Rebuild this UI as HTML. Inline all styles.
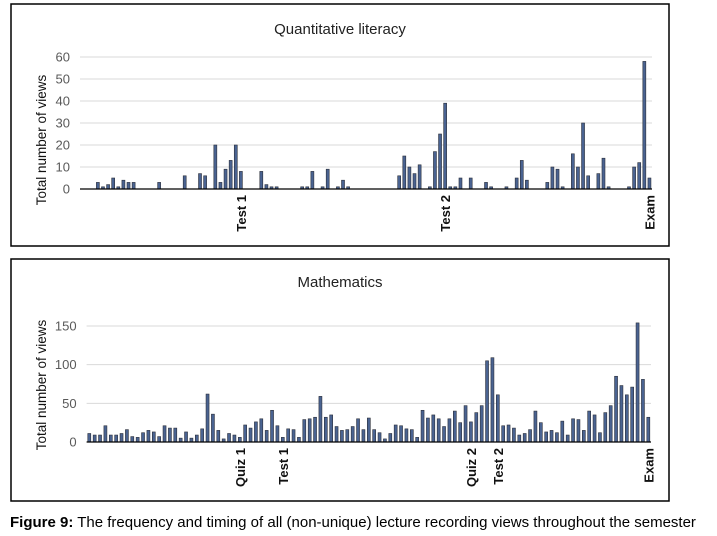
<!DOCTYPE html>
<html><head><meta charset="utf-8"><style>
body{margin:0;background:#fff;width:717px;height:536px;overflow:hidden;font-family:"Liberation Sans",sans-serif;}
svg{position:absolute;left:0;top:0}
.cap{position:absolute;left:10px;top:514px;font-size:15px;color:#000;white-space:nowrap}
</style></head><body>
<svg id="chart" width="717" height="536"></svg>
<div class="cap"><b>Figure 9:</b> The frequency and timing of all (non-unique) lecture recording views throughout the semester</div>
<script>
// Quantitative literacy: slot indices and values (112 slots)
const qlSlots = [3,4,5,6,7,8,9,10,15,20,23,24,26,27,28,29,30,31,35,36,37,38,43,44,45,47,48,50,51,52,62,63,64,65,66,68,69,70,71,72,73,74,76,79,80,83,85,86,87,91,92,93,94,96,97,98,99,101,102,103,107,108,109,110,111];
const qlValues = [3,1,2,5,1,4,3,3,3,6,7,6,20,3,9,13,20,8,8,2,1,1,1,1,8,1,9,1,4,1,6,15,10,7,11,1,17,25,39,1,1,5,5,3,1,1,5,13,4,3,10,9,1,16,10,30,6,7,14,1,1,10,12,58,5];
const qlTicks = [0,10,20,30,40,50,60];
const qlEvents = [["Test 1",31],["Test 2",71],["Exam",111]];
// Mathematics: values per slot (105 slots)
const mathValues = [11,9,9,21,9,9,11,16,7,6,12,15,13,7,21,18,18,5,13,5,9,17,62,36,15,4,11,9,6,22,18,26,30,15,41,21,6,17,16,6,29,30,32,59,32,35,20,15,16,20,30,16,31,
16,12,4,11,22,21,17,16,6,41,31,35,30,20,30,40,25,47,26,38,47,105,109,61,21,22,18,9,11,16,40,25,13,15,12,27,9,30,29,15,40,35,12,38,47,85,73,61,71,154,81,32];
const mathTicks = [0,50,100,150];
const mathEvents = [["Quiz 1",28],["Test 1",36],["Quiz 2",71],["Test 2",76],["Exam",104]];

const svg=document.getElementById('chart');
const NS='http://www.w3.org/2000/svg';
function mk(tag,attrs,parent){const e=document.createElementNS(NS,tag);for(const k in attrs)e.setAttribute(k,attrs[k]);(parent||svg).appendChild(e);return e;}

function drawChart(cfg){
  const g=mk('g',{});
  
  
  const box=mk('rect',{x:cfg.box[0],y:cfg.box[1],width:cfg.box[2],height:cfg.box[3],fill:'none',stroke:'#000','stroke-width':1.5},g);
  
  
  const t=mk('text',{x:cfg.titleX,y:cfg.titleY,'text-anchor':'middle','font-size':15,fill:'#222'},g);t.textContent=cfg.title;
  
  
  const yt=mk('text',{x:0,y:0,transform:`translate(46,${cfg.yLabelY}) rotate(-90)`,'text-anchor':'middle','font-size':13.5,fill:'#111'},g);yt.textContent='Total number of views';
  
  
  const y=v=>cfg.y0-(v/cfg.yMax)*(cfg.y0-cfg.yTop);
  const x=i=>cfg.x0+(i+0.5)*(cfg.x1-cfg.x0)/cfg.n;
  cfg.ticks.forEach(v=>{
    if(v>0){const l=mk('line',{x1:cfg.x0,x2:cfg.x1,y1:y(v),y2:y(v),stroke:'#d9d9d9','stroke-width':1},g);
      
      }
    const tl=mk('text',{x:cfg.x0-10,y:y(v)+4.5,'text-anchor':'end','font-size':13,fill:'#595959'},g);tl.textContent=v;
    
    
  });
  cfg.slots.forEach((s,k)=>{
    const v=cfg.values[k];
    const r=mk('rect',{x:x(s)-1.5,y:y(v),width:3,height:cfg.y0-y(v),fill:'#4a6391',stroke:'#2b2f3a','stroke-width':0.6},g);
    
    
  });
  const ax=mk('line',{x1:cfg.x0,x2:cfg.x1,y1:cfg.y0,y2:cfg.y0,stroke:'#000','stroke-width':1.2},g);
  
  
  cfg.events.forEach(([lab,s])=>{
    const e=mk('text',{x:0,y:0,transform:`translate(${x(s)+5},${cfg.y0+6}) rotate(-90)`,'text-anchor':'end','font-size':13,'font-weight':'bold',fill:'#111'},g);e.textContent=lab;
    
    
  });
}
drawChart({name:'quantitative-literacy-chart',box:[11,4,658,242],title:'Quantitative literacy',titleX:340,titleY:34,yLabelY:140,
  x0:80,x1:652,n:112,y0:189,yTop:57,yMax:60,ticks:qlTicks,slots:qlSlots,values:qlValues,events:qlEvents});
drawChart({name:'mathematics-chart',box:[11,259,658,242],title:'Mathematics',titleX:340,titleY:287,yLabelY:385,
  x0:86.6,x1:651,n:105,y0:442,yTop:326,yMax:150,ticks:mathTicks,slots:mathValues.map((_,i)=>i),values:mathValues,events:mathEvents});
</script>
</body></html>
